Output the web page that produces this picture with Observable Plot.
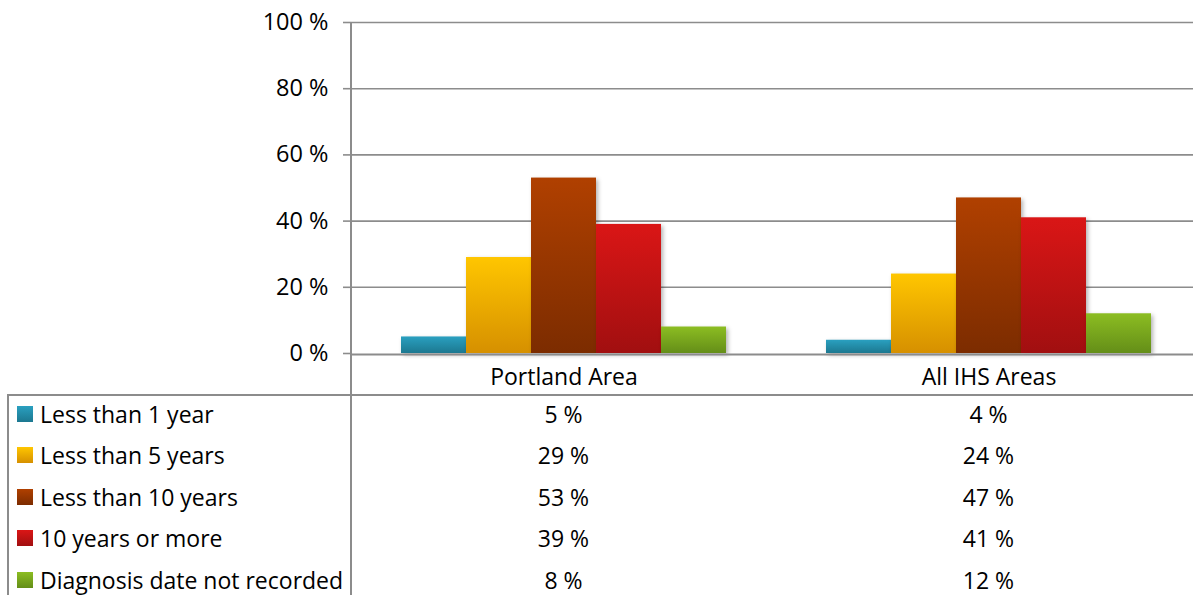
<!DOCTYPE html>
<html>
<head>
<meta charset="utf-8">
<script src="https://cdn.jsdelivr.net/npm/d3@7"></script>
<script src="https://cdn.jsdelivr.net/npm/@observablehq/plot@0.6"></script>
<style>
  html, body { margin: 0; padding: 0; background: #fff; overflow: hidden; }
  #wrap { position: relative; width: 1193px; height: 595px; overflow: hidden; font-family: "Open Sans", Lato, sans-serif; }
  #chart { position: absolute; left: 0; top: 0; width: 1201px; }
  #chart svg { max-width: none !important; height: 395px !important; }
  .vline { position: absolute; background: #8c8c8c; }
  #table { position: absolute; left: 8px; top: 393px; width: 1193px; }
  .row { display: flex; height: 41.5px; align-items: center; font-size: 23px; color: #000; }
  .lab { width: 343px; box-sizing: border-box; padding-left: 9px; display: flex; align-items: center; white-space: nowrap; }
  .key { width: 16px; height: 16px; margin-right: 7px; flex: none; }
  .val { width: 425px; text-align: center; }
</style>
</head>
<body>
<div id="wrap">
  <div id="chart"></div>
  <div id="table"></div>
  <div class="vline" style="left:350px;top:22px;width:2px;height:573px"></div>
  <div class="vline" style="left:7px;top:394px;width:2px;height:201px"></div>
  <div class="vline" style="left:7px;top:394px;width:1186px;height:2px"></div>
</div>
<script>
const categories = ["Portland Area", "All IHS Areas"];
const series = ["Less than 1 year", "Less than 5 years", "Less than 10 years", "10 years or more", "Diagnosis date not recorded"];
const portlandValues = [5, 29, 53, 39, 8];
const allIhsValues = [4, 24, 47, 41, 12];
const yTicks = [0, 20, 40, 60, 80, 100];
const colorTop = ["#2aa0c0", "#ffc600", "#b04000", "#da1616", "#8cbd22"];
const colorBottom = ["#1c7890", "#d69000", "#7c2c00", "#a10f10", "#648e18"];

const valuesByCategory = [portlandValues, allIhsValues];
const data = categories.flatMap((c, ci) =>
  series.map((s, si) => ({category: c, series: s, value: valuesByCategory[ci][si]}))
);

const chart = Plot.plot({
  width: 1201,
  height: 395,
  marginLeft: 351,
  marginRight: 0,
  marginTop: 22,
  marginBottom: 42,
  style: {fontFamily: "'Open Sans', Lato, sans-serif", fontSize: "23px", color: "#000", background: "transparent", overflow: "visible"},
  fx: {domain: categories, padding: 0, label: null},
  x: {domain: series, paddingInner: 0, paddingOuter: 0.74, axis: null},
  y: {domain: [0, 100], ticks: yTicks, label: null},
  marks: [
    Plot.gridY(yTicks.filter(t => t > 0), {stroke: "#8c8c8c", strokeOpacity: 1, strokeWidth: 1.6}),
    Plot.axisY(yTicks, {tickFormat: d => d + " %", tickSize: 8, tickPadding: 15, stroke: "#8c8c8c", strokeWidth: 1.6, fill: "#000", fontSize: 23.5, label: null}),
    ...series.map((s, i) => Plot.barY(data.filter(d => d.series === s), {
      fx: "category", x: "series", y: "value",
      fill: `url(#grad${i})`, insetLeft: 0, insetRight: 0,
      imageFilter: "drop-shadow(2px 2px 2px rgba(0,0,0,0.3))"
    })),
    Plot.ruleY([0], {stroke: "#8c8c8c", strokeWidth: 2.2, dy: 1}),
    Plot.axisFx({anchor: "bottom", tickSize: 0, tickPadding: 15, fontSize: 23, fontWeight: "normal", label: null, fill: "#000"})
  ]
});

const defs = d3.select(chart).insert("defs", ":first-child");
colorTop.forEach((c, i) => {
  const g = defs.append("linearGradient").attr("id", `grad${i}`).attr("x1", 0).attr("y1", 0).attr("x2", 0).attr("y2", 1);
  g.append("stop").attr("offset", "0%").attr("stop-color", c);
  g.append("stop").attr("offset", "100%").attr("stop-color", colorBottom[i]);
});
document.getElementById("chart").appendChild(chart);

const table = document.getElementById("table");
series.forEach((s, i) => {
  const row = document.createElement("div");
  row.className = "row";
  const lab = document.createElement("div");
  lab.className = "lab";
  const key = document.createElement("span");
  key.className = "key";
  key.style.background = `linear-gradient(${colorTop[i]}, ${colorBottom[i]})`;
  lab.appendChild(key);
  lab.appendChild(document.createTextNode(s));
  row.appendChild(lab);
  valuesByCategory.forEach(vals => {
    const v = document.createElement("div");
    v.className = "val";
    v.textContent = vals[i] + " %";
    row.appendChild(v);
  });
  table.appendChild(row);
});
</script>
</body>
</html>
